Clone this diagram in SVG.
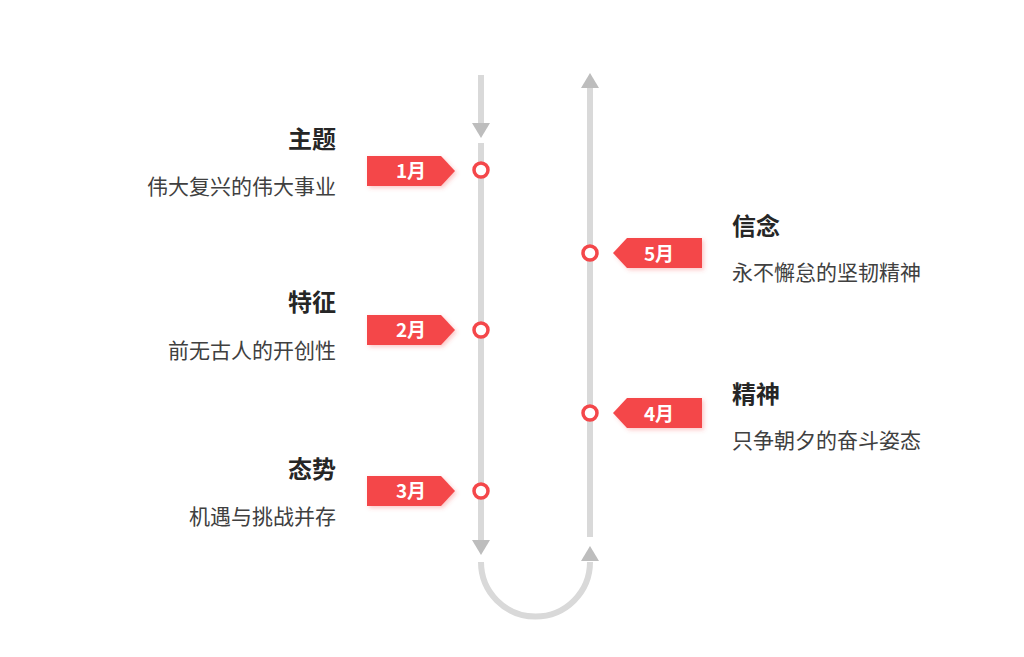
<svg xmlns="http://www.w3.org/2000/svg" width="1024" height="657" viewBox="0 0 1024 657">
<defs>
<style>
.ln{stroke:#d9d9d9;stroke-width:6;fill:none}
.ah{fill:#bdbdbd}
.tag{fill:#f4474a}
.tt{font-family:"Noto Sans CJK SC",sans-serif;font-size:19px;font-weight:bold;fill:#fff;text-anchor:middle}
.dot{fill:#fff;stroke:#f4474a;stroke-width:3.5}
.h{font-family:"Noto Sans CJK SC",sans-serif;font-size:24px;font-weight:bold;fill:#262626}
.s{font-family:"Noto Sans CJK SC",sans-serif;font-size:21px;fill:#404040}
.l{text-anchor:end}
</style>
<filter id="sh" x="-20%" y="-20%" width="150%" height="160%"><feDropShadow dx="2" dy="2" stdDeviation="2" flood-color="#f4474a" flood-opacity="0.3"/></filter>
</defs>
<g id="connectors">
<line class="ln" x1="481" y1="75" x2="481" y2="124"/>
<polygon class="ah" points="472,123 490,123 481,138"/>
<line class="ln" x1="481" y1="143" x2="481" y2="540"/>
<polygon class="ah" points="472,540 490,540 481,555"/>
<path class="ln" d="M481,562 A54.5,54.5 0 0 0 590,562"/>
<polygon class="ah" points="581,561 599,561 590,546"/>
<line class="ln" x1="590" y1="537" x2="590" y2="88"/>
<polygon class="ah" points="581,88 599,88 590,73"/>
</g>
<g id="n1">
<polygon class="tag" filter="url(#sh)" points="367,156 441,156 455,171 441,186 367,186"/>
<text class="tt" x="411" y="178">1月</text>
<circle class="dot" cx="481" cy="170" r="7"/>
<text class="h l" x="336" y="148">主题</text>
<text class="s l" x="336" y="194">伟大复兴的伟大事业</text>
</g>
<g id="n2">
<polygon class="tag" filter="url(#sh)" points="367,315 441,315 455,330 441,345 367,345"/>
<text class="tt" x="411" y="337">2月</text>
<circle class="dot" cx="481" cy="330" r="7"/>
<text class="h l" x="336" y="311">特征</text>
<text class="s l" x="336" y="358">前无古人的开创性</text>
</g>
<g id="n3">
<polygon class="tag" filter="url(#sh)" points="367,476 441,476 455,491 441,506 367,506"/>
<text class="tt" x="411" y="498">3月</text>
<circle class="dot" cx="481" cy="491" r="7"/>
<text class="h l" x="336" y="478">态势</text>
<text class="s l" x="336" y="524">机遇与挑战并存</text>
</g>
<g id="n5">
<polygon class="tag" filter="url(#sh)" points="702,238 627,238 613,253 627,268 702,268"/>
<text class="tt" x="659" y="261">5月</text>
<circle class="dot" cx="590" cy="253" r="7"/>
<text class="h" x="732" y="235">信念</text>
<text class="s" x="732" y="280">永不懈怠的坚韧精神</text>
</g>
<g id="n4">
<polygon class="tag" filter="url(#sh)" points="702,398 627,398 613,413 627,428 702,428"/>
<text class="tt" x="659" y="421">4月</text>
<circle class="dot" cx="590" cy="413" r="7"/>
<text class="h" x="732" y="403">精神</text>
<text class="s" x="732" y="448">只争朝夕的奋斗姿态</text>
</g>
</svg>
